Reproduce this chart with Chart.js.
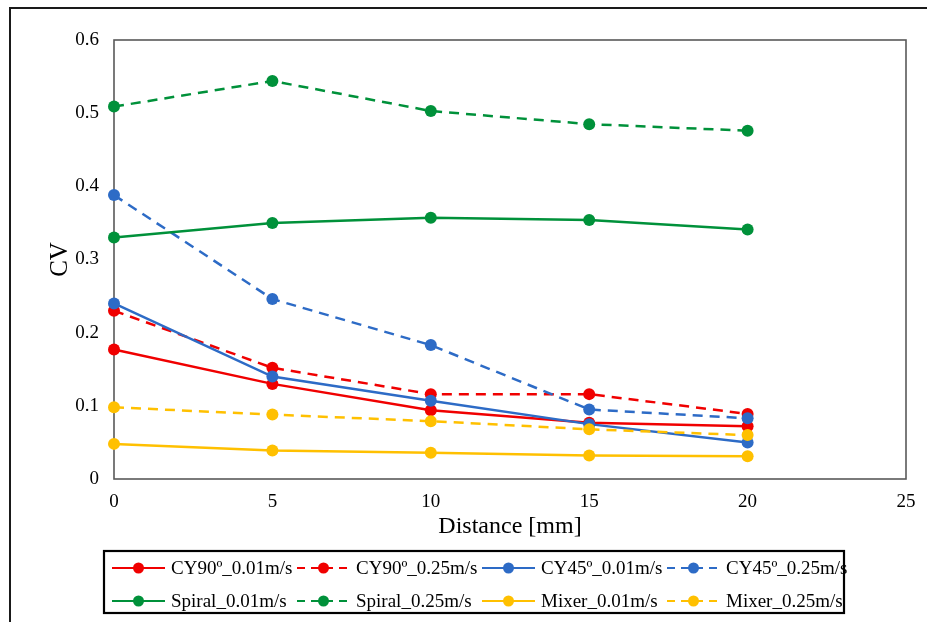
<!DOCTYPE html>
<html><head><meta charset="utf-8">
<script src="https://cdn.jsdelivr.net/npm/chart.js@4/dist/chart.umd.min.js"></script>
<style>html,body{margin:0;padding:0;background:#fff;}#wrap{position:relative;width:927px;height:622px;}canvas{display:block;}</style>
</head><body><div id="wrap"><canvas id="c" width="927" height="622"></canvas></div>
<script>
const distances = [0, 5, 10, 15, 20];
const xTicks = [0, 5, 10, 15, 20, 25];
const yTicks = [0, 0.1, 0.2, 0.3, 0.4, 0.5, 0.6];
const seriesNames = ["CY90º_0.01m/s", "CY90º_0.25m/s", "CY45º_0.01m/s", "CY45º_0.25m/s",
                     "Spiral_0.01m/s", "Spiral_0.25m/s", "Mixer_0.01m/s", "Mixer_0.25m/s"];
const cy90_001   = [0.177, 0.130, 0.094, 0.077, 0.072];
const cy90_025   = [0.230, 0.152, 0.116, 0.116, 0.089];
const cy45_001   = [0.240, 0.140, 0.107, 0.075, 0.050];
const cy45_025   = [0.388, 0.246, 0.183, 0.095, 0.083];
const spiral_001 = [0.330, 0.350, 0.357, 0.354, 0.341];
const spiral_025 = [0.509, 0.544, 0.503, 0.485, 0.476];
const mixer_001  = [0.048, 0.039, 0.036, 0.032, 0.031];
const mixer_025  = [0.098, 0.088, 0.079, 0.068, 0.060];

const seriesValues = [cy90_001, cy90_025, cy45_001, cy45_025, spiral_001, spiral_025, mixer_001, mixer_025];
const colors = ["#F00000", "#F00000", "#2D6BC6", "#2D6BC6", "#00913A", "#00913A", "#FFC000", "#FFC000"];
const dashed = [false, true, false, true, false, true, false, true];
const DASH = [10, 7];
const FONT = "'Liberation Serif', 'Times New Roman', serif";

const datasets = seriesValues.map((vals, i) => ({
  label: seriesNames[i],
  data: distances.map((d, j) => ({x: d, y: vals[j]})),
  borderColor: colors[i],
  backgroundColor: colors[i],
  pointBackgroundColor: colors[i],
  pointBorderColor: colors[i],
  borderWidth: 2.5,
  borderDash: dashed[i] ? DASH : [],
  pointRadius: 6,
  pointBorderWidth: 0,
  pointHoverRadius: 6,
  tension: 0,
  clip: false,
  order: seriesValues.length - i
}));

const framePlugin = {
  id: 'frame',
  beforeDatasetsDraw(chart) {
    const a = chart.chartArea, ctx = chart.ctx;
    ctx.save();
    ctx.strokeStyle = '#595959';
    ctx.lineWidth = 1.6;
    ctx.strokeRect(a.left, a.top, a.right - a.left, a.bottom - a.top);
    ctx.restore();
  },
  afterDraw(chart) {
    const ctx = chart.ctx;
    ctx.save();
    ctx.strokeStyle = '#1a1a1a';
    ctx.lineWidth = 2;
    ctx.beginPath();
    ctx.moveTo(10, 622); ctx.lineTo(10, 8); ctx.lineTo(927, 8);
    ctx.stroke();
    ctx.strokeStyle = '#000';
    ctx.lineWidth = 2.2;
    ctx.strokeRect(104, 551, 740, 62);
    const colX = [112, 297, 482, 667];
    const rowY = [568, 601];
    ctx.font = "19px " + FONT;
    ctx.textBaseline = 'middle';
    ctx.textAlign = 'left';
    chart.data.datasets.forEach((ds, i) => {
      const x = colX[i % 4], y = rowY[Math.floor(i / 4)];
      ctx.strokeStyle = ds.borderColor;
      ctx.lineWidth = 2.2;
      ctx.setLineDash(ds.borderDash.length ? [8, 6] : []);
      ctx.beginPath(); ctx.moveTo(x, y); ctx.lineTo(x + 53, y); ctx.stroke();
      ctx.setLineDash([]);
      ctx.fillStyle = ds.borderColor;
      ctx.beginPath(); ctx.arc(x + 26.5, y, 5.5, 0, Math.PI * 2); ctx.fill();
      ctx.fillStyle = '#000';
      ctx.fillText(ds.label, x + 59, y + 1);
    });
    ctx.restore();
  }
};

new Chart(document.getElementById('c'), {
  type: 'line',
  data: {datasets},
  options: {
    responsive: false,
    animation: false,
    devicePixelRatio: 1,
    layout: {padding: {left: 43, right: 21, top: 40, bottom: 79}},
    plugins: {legend: {display: false}, tooltip: {enabled: false}},
    scales: {
      x: {
        type: 'linear', min: 0, max: 25,
        afterBuildTicks: s => { s.ticks = xTicks.map(v => ({value: v})); },
        afterFit: s => { s.height = 64; s.paddingLeft = 0; s.paddingRight = 0; },
        grid: {display: false, drawTicks: false},
        border: {display: false},
        ticks: {padding: 12, color: '#000', font: {family: FONT, size: 19}, maxRotation: 0, autoSkip: false},
        title: {display: true, text: 'Distance [mm]', color: '#000', font: {family: FONT, size: 24}, padding: 2}
      },
      y: {
        type: 'linear', min: 0, max: 0.6,
        afterBuildTicks: s => { s.ticks = yTicks.map(v => ({value: v})); },
        afterFit: s => { s.width = 71; },
        grid: {display: false, drawTicks: false},
        border: {display: false},
        ticks: {padding: 15, color: '#000', font: {family: FONT, size: 19},
                callback: v => v === 0 ? '0' : v.toFixed(1)},
        title: {display: true, text: 'CV', color: '#000', font: {family: FONT, size: 25}, padding: 2}
      }
    }
  },
  plugins: [framePlugin]
});
</script>
</body></html>
